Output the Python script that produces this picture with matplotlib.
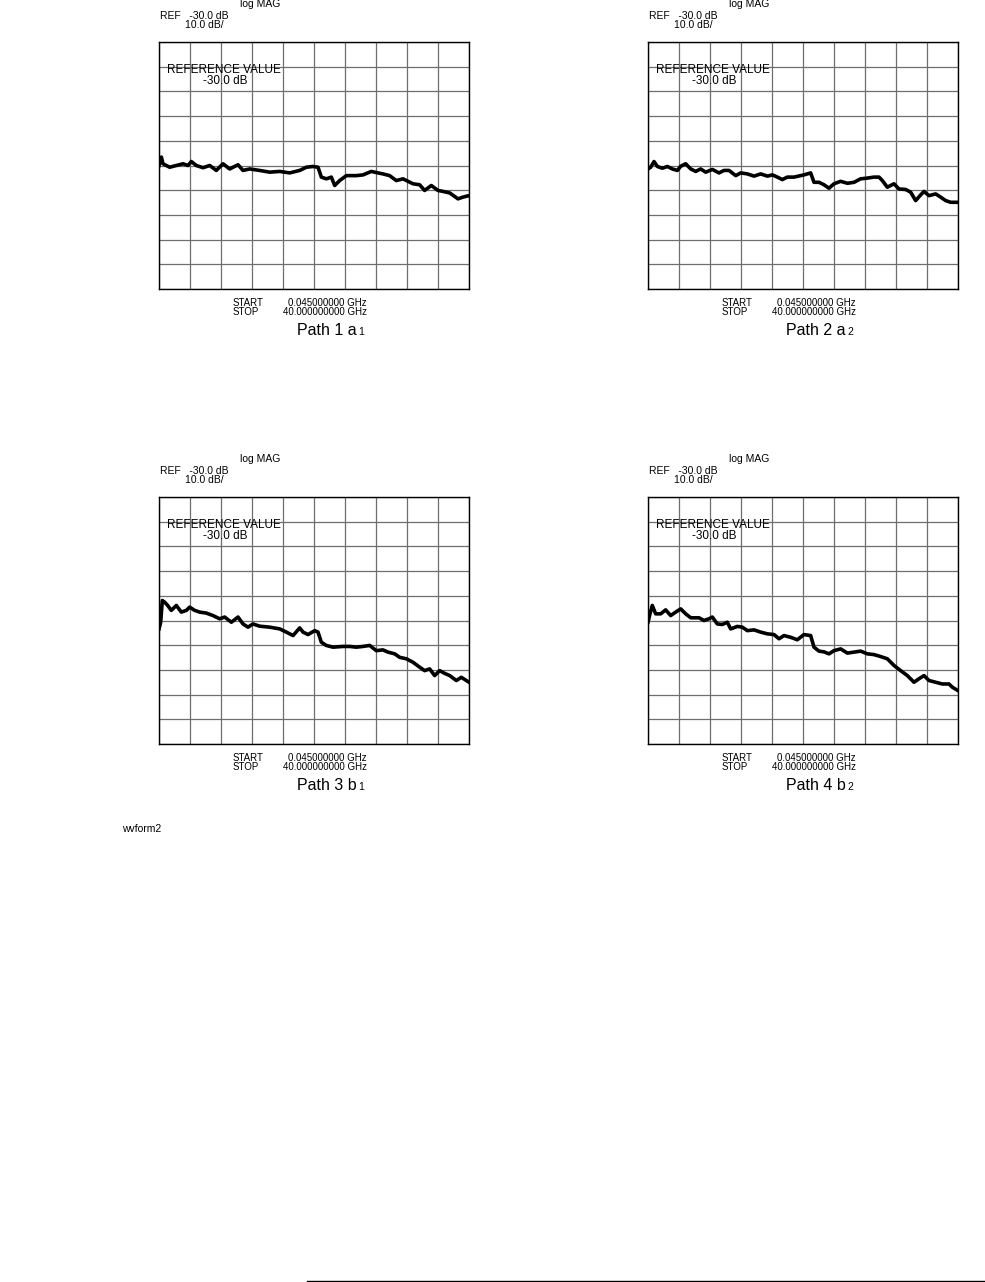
import numpy as np
import matplotlib
matplotlib.use('Agg')
import matplotlib.pyplot as plt
from matplotlib.lines import Line2D

plt.rcParams['font.family'] = ['Liberation Sans', 'DejaVu Sans']

W, H = 985, 1282

# Trace data (frequency in GHz, magnitude in dB)
p1_ghz = [0.05, 0.35, 0.56, 1.42, 2.28, 3.14, 3.78, 4.21, 4.86, 5.72, 6.58, 7.43, 8.29, 9.15,
          10.23, 10.87, 11.73, 13.02, 14.31, 15.60, 16.89, 18.18, 19.03, 19.89, 20.54, 20.97,
          21.61, 22.26, 22.69, 23.33, 24.19, 25.48, 26.34, 27.41, 28.27, 28.91, 29.77, 30.63,
          31.49, 32.78, 33.64, 34.28, 35.14, 36.00, 36.65, 37.51, 38.58, 39.22, 40.0]
p1_db = [-30.0, -26.6, -29.3, -30.7, -30.0, -29.3, -30.0, -28.4, -30.0, -30.9, -30.0, -32.0,
         -29.3, -31.4, -29.7, -32.0, -31.4, -32.0, -32.7, -32.4, -33.0, -32.0, -30.7, -30.4,
         -30.7, -34.7, -35.4, -34.7, -38.1, -36.1, -34.1, -34.1, -33.8, -32.4, -33.0, -33.4,
         -34.1, -36.1, -35.4, -37.4, -37.8, -40.1, -38.1, -40.1, -40.5, -41.1, -43.5, -42.8,
         -42.2]

p2_ghz = [0.05, 0.39, 0.82, 1.25, 1.89, 2.54, 3.18, 3.83, 4.26, 4.90, 5.55, 6.19, 6.83, 7.48,
          8.34, 9.20, 9.84, 10.49, 11.35, 11.99, 12.85, 13.71, 14.57, 15.43, 16.07, 16.72,
          17.36, 18.00, 18.86, 20.15, 21.01, 21.44, 22.08, 22.73, 23.37, 24.02, 24.88, 25.74,
          26.60, 27.45, 28.31, 29.17, 29.82, 30.25, 30.89, 31.75, 32.39, 33.25, 33.90, 34.54,
          35.19, 35.62, 36.26, 37.12, 37.76, 38.41, 39.05, 40.0]
p2_db = [-31.4, -30.7, -28.4, -30.4, -31.1, -30.4, -31.4, -32.0, -30.3, -29.3, -31.4, -32.4,
         -31.4, -32.7, -31.6, -33.0, -32.0, -32.0, -34.1, -33.0, -33.4, -34.3, -33.4, -34.3,
         -33.8, -34.7, -35.7, -34.7, -34.7, -33.8, -33.0, -36.8, -36.8, -37.8, -39.2, -37.4,
         -36.4, -37.2, -36.8, -35.4, -35.1, -34.7, -34.7, -36.1, -38.8, -37.4, -39.5, -39.7,
         -40.8, -44.2, -41.9, -40.5, -42.2, -41.5, -42.8, -44.2, -44.9, -44.9]

p3_ghz = [0.05, 0.26, 0.47, 0.78, 1.16, 1.63, 2.28, 2.92, 3.57, 4.00, 4.64, 5.29, 6.15, 7.00,
          7.86, 8.51, 9.37, 10.23, 10.87, 11.52, 12.16, 13.02, 14.31, 15.60, 16.46, 17.32,
          18.18, 18.61, 19.25, 20.11, 20.54, 20.97, 21.61, 22.47, 23.76, 24.62, 25.48, 26.34,
          27.20, 28.05, 28.91, 29.56, 30.42, 31.06, 31.92, 32.78, 33.64, 34.28, 34.93, 35.57,
          36.22, 36.86, 37.51, 38.37, 39.01, 40.0]
p3_db = [-33.4, -30.7, -21.9, -22.6, -23.9, -25.9, -23.9, -26.6, -25.9, -24.6, -25.9, -26.6,
         -27.0, -28.0, -29.3, -28.6, -30.7, -28.6, -31.4, -32.7, -31.4, -32.3, -32.7, -33.4,
         -34.7, -36.1, -33.0, -34.7, -35.7, -34.1, -34.7, -38.8, -40.1, -40.8, -40.5, -40.5,
         -40.8, -40.5, -40.1, -42.2, -41.9, -42.8, -43.5, -44.9, -45.5, -46.9, -48.9, -50.3,
         -49.6, -52.3, -50.3, -51.4, -52.3, -54.3, -53.0, -55.0]

p4_ghz = [0.05, 0.30, 0.60, 1.03, 1.68, 2.32, 2.97, 3.61, 4.26, 4.90, 5.55, 6.62, 7.26, 7.91,
          8.34, 8.98, 9.63, 10.27, 10.70, 11.56, 12.20, 12.85, 13.71, 14.57, 15.43, 16.29,
          16.93, 17.57, 18.43, 19.29, 20.15, 21.01, 21.44, 22.08, 22.73, 23.37, 24.02, 24.88,
          25.74, 26.60, 27.45, 28.31, 29.17, 30.03, 30.89, 31.75, 32.61, 33.47, 34.33, 34.97,
          35.62, 36.26, 37.12, 37.98, 38.84, 39.27, 40.0]
p4_db = [-30.7, -27.3, -23.9, -27.3, -27.3, -25.7, -28.0, -26.6, -25.3, -27.3, -28.9, -28.9,
         -30.0, -29.3, -28.6, -31.4, -31.6, -30.7, -33.4, -32.4, -32.7, -34.1, -33.8, -34.7,
         -35.4, -35.7, -37.4, -36.1, -36.8, -37.8, -35.7, -36.1, -40.8, -42.4, -42.7, -43.5,
         -42.2, -41.5, -43.2, -42.8, -42.4, -43.5, -43.8, -44.6, -45.5, -48.2, -50.3, -52.3,
         -55.0, -53.6, -52.3, -54.3, -55.0, -55.7, -55.7, -57.0, -58.4]

titles = ['Path 1 a', 'Path 2 a', 'Path 3 b', 'Path 4 b']
subs = ['1', '2', '1', '2']
traces = [(p1_ghz, p1_db), (p2_ghz, p2_db), (p3_ghz, p3_db), (p4_ghz, p4_db)]

start_ghz, stop_ghz = 0.045, 40.0
ref_db, scale_db = -30.0, 10.0

# panel boxes in pixels: left, top (width/height shared)
boxes = [(159, 42), (648, 42), (159, 497), (648, 497)]
bw, bh = 310, 247

fig = plt.figure(figsize=(W / 100, H / 100), dpi=100)


def fx(x):
    return x / W


def fy(y):
    return 1 - y / H


for (left, top), (f, db), title, sub in zip(boxes, traces, titles, subs):
    ax = fig.add_axes([fx(left), fy(top + bh), bw / W, bh / H])
    ax.set_xlim(start_ghz, stop_ghz)
    ax.set_ylim(ref_db - 5 * scale_db, ref_db + 5 * scale_db)
    ax.set_xticks(np.linspace(start_ghz, stop_ghz, 11))
    ax.set_yticks(np.arange(ref_db - 5 * scale_db, ref_db + 5 * scale_db + 1, scale_db))
    ax.grid(True, color='#6e6e6e', lw=0.9)
    ax.tick_params(length=0, labelbottom=False, labelleft=False)
    for s in ax.spines.values():
        s.set_color('black')
        s.set_linewidth(1.0)
    ax.plot(f, db, color='black', lw=2.6, solid_joinstyle='round', zorder=3)

    ax.text(8 / bw, 1 - 31 / bh, 'REFERENCE VALUE', transform=ax.transAxes,
            fontsize=8.5, va='baseline', ha='left')
    ax.text(44 / bw, 1 - 41.5 / bh, '-30.0 dB', transform=ax.transAxes,
            fontsize=8.5, va='baseline', ha='left')

    # header
    fig.text(fx(left + 81), fy(top - 35), 'log MAG', fontsize=7.5, va='baseline')
    fig.text(fx(left + 1), fy(top - 23), 'REF   -30.0 dB', fontsize=7.5, va='baseline')
    fig.text(fx(left + 26), fy(top - 14), '10.0 dB/', fontsize=7.5, va='baseline')

    # footer
    fig.text(fx(left + 74), fy(top + 264), 'START', fontsize=7, va='baseline')
    fig.text(fx(left + 74), fy(top + 273), 'STOP', fontsize=7, va='baseline')
    fig.text(fx(left + 208), fy(top + 264), '0.045000000 GHz', fontsize=7,
             va='baseline', ha='right')
    fig.text(fx(left + 208), fy(top + 273), '40.000000000 GHz', fontsize=7,
             va='baseline', ha='right')
    fig.text(fx(left + 198), fy(top + 293), title, fontsize=11.5, va='baseline', ha='right')
    fig.text(fx(left + 199), fy(top + 293), sub, fontsize=7.5, va='baseline', ha='left')

fig.text(fx(122), fy(832), 'wvform2', fontsize=7.5, va='baseline')

fig.add_artist(Line2D([fx(307), 1.0], [fy(1281), fy(1281)], color='black', lw=1.0))

fig.savefig('out.png', dpi=100, facecolor='white')
